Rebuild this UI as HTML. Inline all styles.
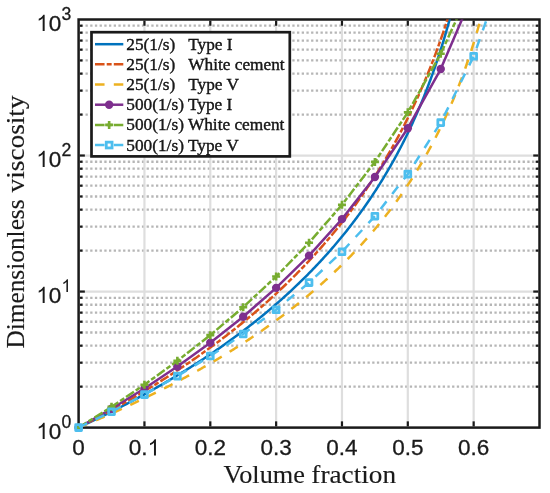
<!DOCTYPE html>
<html><head><meta charset="utf-8"><title>Dimensionless viscosity vs volume fraction</title>
<style>html,body{margin:0;padding:0;background:#fff;}svg{display:block;}text{font-family:"Liberation Sans",sans-serif;fill:#1a1a1a;}svg{will-change:transform;}.serif{font-family:"Liberation Serif",serif;}</style></head><body>
<svg width="550" height="493" viewBox="0 0 550 493">
<rect x="0" y="0" width="550" height="493" fill="#ffffff"/>
<defs><clipPath id="ax"><rect x="78.6" y="19.5" width="460.9" height="408.1"/></clipPath></defs>
<g id="grid">
<line x1="80.80" y1="386.65" x2="539.50" y2="386.65" stroke="#b6b6b6" stroke-width="2.3" stroke-dasharray="2.3 2.4"/>
<line x1="80.80" y1="362.70" x2="539.50" y2="362.70" stroke="#b6b6b6" stroke-width="2.3" stroke-dasharray="2.3 2.4"/>
<line x1="80.80" y1="345.70" x2="539.50" y2="345.70" stroke="#b6b6b6" stroke-width="2.3" stroke-dasharray="2.3 2.4"/>
<line x1="80.80" y1="332.52" x2="539.50" y2="332.52" stroke="#b6b6b6" stroke-width="2.3" stroke-dasharray="2.3 2.4"/>
<line x1="80.80" y1="321.75" x2="539.50" y2="321.75" stroke="#b6b6b6" stroke-width="2.3" stroke-dasharray="2.3 2.4"/>
<line x1="80.80" y1="312.64" x2="539.50" y2="312.64" stroke="#b6b6b6" stroke-width="2.3" stroke-dasharray="2.3 2.4"/>
<line x1="80.80" y1="304.75" x2="539.50" y2="304.75" stroke="#b6b6b6" stroke-width="2.3" stroke-dasharray="2.3 2.4"/>
<line x1="80.80" y1="297.79" x2="539.50" y2="297.79" stroke="#b6b6b6" stroke-width="2.3" stroke-dasharray="2.3 2.4"/>
<line x1="80.80" y1="250.62" x2="539.50" y2="250.62" stroke="#b6b6b6" stroke-width="2.3" stroke-dasharray="2.3 2.4"/>
<line x1="80.80" y1="226.66" x2="539.50" y2="226.66" stroke="#b6b6b6" stroke-width="2.3" stroke-dasharray="2.3 2.4"/>
<line x1="80.80" y1="209.67" x2="539.50" y2="209.67" stroke="#b6b6b6" stroke-width="2.3" stroke-dasharray="2.3 2.4"/>
<line x1="80.80" y1="196.48" x2="539.50" y2="196.48" stroke="#b6b6b6" stroke-width="2.3" stroke-dasharray="2.3 2.4"/>
<line x1="80.80" y1="185.71" x2="539.50" y2="185.71" stroke="#b6b6b6" stroke-width="2.3" stroke-dasharray="2.3 2.4"/>
<line x1="80.80" y1="176.61" x2="539.50" y2="176.61" stroke="#b6b6b6" stroke-width="2.3" stroke-dasharray="2.3 2.4"/>
<line x1="80.80" y1="168.72" x2="539.50" y2="168.72" stroke="#b6b6b6" stroke-width="2.3" stroke-dasharray="2.3 2.4"/>
<line x1="80.80" y1="161.76" x2="539.50" y2="161.76" stroke="#b6b6b6" stroke-width="2.3" stroke-dasharray="2.3 2.4"/>
<line x1="80.80" y1="114.58" x2="539.50" y2="114.58" stroke="#b6b6b6" stroke-width="2.3" stroke-dasharray="2.3 2.4"/>
<line x1="80.80" y1="90.63" x2="539.50" y2="90.63" stroke="#b6b6b6" stroke-width="2.3" stroke-dasharray="2.3 2.4"/>
<line x1="80.80" y1="73.63" x2="539.50" y2="73.63" stroke="#b6b6b6" stroke-width="2.3" stroke-dasharray="2.3 2.4"/>
<line x1="80.80" y1="60.45" x2="539.50" y2="60.45" stroke="#b6b6b6" stroke-width="2.3" stroke-dasharray="2.3 2.4"/>
<line x1="80.80" y1="49.68" x2="539.50" y2="49.68" stroke="#b6b6b6" stroke-width="2.3" stroke-dasharray="2.3 2.4"/>
<line x1="80.80" y1="40.57" x2="539.50" y2="40.57" stroke="#b6b6b6" stroke-width="2.3" stroke-dasharray="2.3 2.4"/>
<line x1="80.80" y1="32.68" x2="539.50" y2="32.68" stroke="#b6b6b6" stroke-width="2.3" stroke-dasharray="2.3 2.4"/>
<line x1="80.80" y1="25.72" x2="539.50" y2="25.72" stroke="#b6b6b6" stroke-width="2.3" stroke-dasharray="2.3 2.4"/>
<line x1="78.60" y1="291.57" x2="539.50" y2="291.57" stroke="#dedede" stroke-width="2.2"/>
<line x1="78.60" y1="155.53" x2="539.50" y2="155.53" stroke="#dedede" stroke-width="2.2"/>
<line x1="144.44" y1="19.50" x2="144.44" y2="427.60" stroke="#dedede" stroke-width="2.2"/>
<line x1="210.29" y1="19.50" x2="210.29" y2="427.60" stroke="#dedede" stroke-width="2.2"/>
<line x1="276.13" y1="19.50" x2="276.13" y2="427.60" stroke="#dedede" stroke-width="2.2"/>
<line x1="341.97" y1="19.50" x2="341.97" y2="427.60" stroke="#dedede" stroke-width="2.2"/>
<line x1="407.81" y1="19.50" x2="407.81" y2="427.60" stroke="#dedede" stroke-width="2.2"/>
<line x1="473.66" y1="19.50" x2="473.66" y2="427.60" stroke="#dedede" stroke-width="2.2"/>
</g>
<g id="axes" stroke="#1a1a1a" fill="none">
<rect x="78.60" y="19.50" width="460.90" height="408.10" stroke-width="2.5"/>
<line x1="144.44" y1="426.35" x2="144.44" y2="421.35" stroke-width="2.2"/>
<line x1="144.44" y1="20.75" x2="144.44" y2="25.75" stroke-width="2.2"/>
<line x1="210.29" y1="426.35" x2="210.29" y2="421.35" stroke-width="2.2"/>
<line x1="210.29" y1="20.75" x2="210.29" y2="25.75" stroke-width="2.2"/>
<line x1="276.13" y1="426.35" x2="276.13" y2="421.35" stroke-width="2.2"/>
<line x1="276.13" y1="20.75" x2="276.13" y2="25.75" stroke-width="2.2"/>
<line x1="341.97" y1="426.35" x2="341.97" y2="421.35" stroke-width="2.2"/>
<line x1="341.97" y1="20.75" x2="341.97" y2="25.75" stroke-width="2.2"/>
<line x1="407.81" y1="426.35" x2="407.81" y2="421.35" stroke-width="2.2"/>
<line x1="407.81" y1="20.75" x2="407.81" y2="25.75" stroke-width="2.2"/>
<line x1="473.66" y1="426.35" x2="473.66" y2="421.35" stroke-width="2.2"/>
<line x1="473.66" y1="20.75" x2="473.66" y2="25.75" stroke-width="2.2"/>
<line x1="79.85" y1="386.65" x2="82.45" y2="386.65" stroke-width="2.2"/>
<line x1="538.25" y1="386.65" x2="535.65" y2="386.65" stroke-width="2.2"/>
<line x1="79.85" y1="362.70" x2="82.45" y2="362.70" stroke-width="2.2"/>
<line x1="538.25" y1="362.70" x2="535.65" y2="362.70" stroke-width="2.2"/>
<line x1="79.85" y1="345.70" x2="82.45" y2="345.70" stroke-width="2.2"/>
<line x1="538.25" y1="345.70" x2="535.65" y2="345.70" stroke-width="2.2"/>
<line x1="79.85" y1="332.52" x2="82.45" y2="332.52" stroke-width="2.2"/>
<line x1="538.25" y1="332.52" x2="535.65" y2="332.52" stroke-width="2.2"/>
<line x1="79.85" y1="321.75" x2="82.45" y2="321.75" stroke-width="2.2"/>
<line x1="538.25" y1="321.75" x2="535.65" y2="321.75" stroke-width="2.2"/>
<line x1="79.85" y1="312.64" x2="82.45" y2="312.64" stroke-width="2.2"/>
<line x1="538.25" y1="312.64" x2="535.65" y2="312.64" stroke-width="2.2"/>
<line x1="79.85" y1="304.75" x2="82.45" y2="304.75" stroke-width="2.2"/>
<line x1="538.25" y1="304.75" x2="535.65" y2="304.75" stroke-width="2.2"/>
<line x1="79.85" y1="297.79" x2="82.45" y2="297.79" stroke-width="2.2"/>
<line x1="538.25" y1="297.79" x2="535.65" y2="297.79" stroke-width="2.2"/>
<line x1="79.85" y1="291.57" x2="84.85" y2="291.57" stroke-width="2.2"/>
<line x1="538.25" y1="291.57" x2="533.25" y2="291.57" stroke-width="2.2"/>
<line x1="79.85" y1="250.62" x2="82.45" y2="250.62" stroke-width="2.2"/>
<line x1="538.25" y1="250.62" x2="535.65" y2="250.62" stroke-width="2.2"/>
<line x1="79.85" y1="226.66" x2="82.45" y2="226.66" stroke-width="2.2"/>
<line x1="538.25" y1="226.66" x2="535.65" y2="226.66" stroke-width="2.2"/>
<line x1="79.85" y1="209.67" x2="82.45" y2="209.67" stroke-width="2.2"/>
<line x1="538.25" y1="209.67" x2="535.65" y2="209.67" stroke-width="2.2"/>
<line x1="79.85" y1="196.48" x2="82.45" y2="196.48" stroke-width="2.2"/>
<line x1="538.25" y1="196.48" x2="535.65" y2="196.48" stroke-width="2.2"/>
<line x1="79.85" y1="185.71" x2="82.45" y2="185.71" stroke-width="2.2"/>
<line x1="538.25" y1="185.71" x2="535.65" y2="185.71" stroke-width="2.2"/>
<line x1="79.85" y1="176.61" x2="82.45" y2="176.61" stroke-width="2.2"/>
<line x1="538.25" y1="176.61" x2="535.65" y2="176.61" stroke-width="2.2"/>
<line x1="79.85" y1="168.72" x2="82.45" y2="168.72" stroke-width="2.2"/>
<line x1="538.25" y1="168.72" x2="535.65" y2="168.72" stroke-width="2.2"/>
<line x1="79.85" y1="161.76" x2="82.45" y2="161.76" stroke-width="2.2"/>
<line x1="538.25" y1="161.76" x2="535.65" y2="161.76" stroke-width="2.2"/>
<line x1="79.85" y1="155.53" x2="84.85" y2="155.53" stroke-width="2.2"/>
<line x1="538.25" y1="155.53" x2="533.25" y2="155.53" stroke-width="2.2"/>
<line x1="79.85" y1="114.58" x2="82.45" y2="114.58" stroke-width="2.2"/>
<line x1="538.25" y1="114.58" x2="535.65" y2="114.58" stroke-width="2.2"/>
<line x1="79.85" y1="90.63" x2="82.45" y2="90.63" stroke-width="2.2"/>
<line x1="538.25" y1="90.63" x2="535.65" y2="90.63" stroke-width="2.2"/>
<line x1="79.85" y1="73.63" x2="82.45" y2="73.63" stroke-width="2.2"/>
<line x1="538.25" y1="73.63" x2="535.65" y2="73.63" stroke-width="2.2"/>
<line x1="79.85" y1="60.45" x2="82.45" y2="60.45" stroke-width="2.2"/>
<line x1="538.25" y1="60.45" x2="535.65" y2="60.45" stroke-width="2.2"/>
<line x1="79.85" y1="49.68" x2="82.45" y2="49.68" stroke-width="2.2"/>
<line x1="538.25" y1="49.68" x2="535.65" y2="49.68" stroke-width="2.2"/>
<line x1="79.85" y1="40.57" x2="82.45" y2="40.57" stroke-width="2.2"/>
<line x1="538.25" y1="40.57" x2="535.65" y2="40.57" stroke-width="2.2"/>
<line x1="79.85" y1="32.68" x2="82.45" y2="32.68" stroke-width="2.2"/>
<line x1="538.25" y1="32.68" x2="535.65" y2="32.68" stroke-width="2.2"/>
<line x1="79.85" y1="25.72" x2="82.45" y2="25.72" stroke-width="2.2"/>
<line x1="538.25" y1="25.72" x2="535.65" y2="25.72" stroke-width="2.2"/>
</g>
<g id="curves" fill="none" stroke-linejoin="round">
<path clip-path="url(#ax)" d="M78.60,427.60 L79.64,427.12 L80.67,426.63 L81.71,426.15 L82.75,425.66 L83.79,425.18 L84.82,424.69 L85.86,424.20 L86.90,423.71 L87.93,423.22 L88.97,422.72 L90.01,422.23 L91.04,421.73 L92.08,421.23 L93.12,420.74 L94.16,420.24 L95.19,419.74 L96.23,419.23 L97.27,418.73 L98.30,418.23 L99.34,417.72 L100.38,417.21 L101.41,416.70 L102.45,416.19 L103.49,415.68 L104.53,415.17 L105.56,414.66 L106.60,414.14 L107.64,413.63 L108.67,413.11 L109.71,412.59 L110.75,412.07 L111.78,411.55 L112.82,411.02 L113.86,410.50 L114.90,409.97 L115.93,409.44 L116.97,408.91 L118.01,408.38 L119.04,407.85 L120.08,407.32 L121.12,406.78 L122.16,406.25 L123.19,405.71 L124.23,405.17 L125.27,404.63 L126.30,404.09 L127.34,403.55 L128.38,403.00 L129.41,402.45 L130.45,401.91 L131.49,401.36 L132.53,400.80 L133.56,400.25 L134.60,399.70 L135.64,399.14 L136.67,398.58 L137.71,398.03 L138.75,397.47 L139.78,396.90 L140.82,396.34 L141.86,395.77 L142.90,395.21 L143.93,394.64 L144.97,394.07 L146.01,393.50 L147.04,392.92 L148.08,392.35 L149.12,391.77 L150.15,391.19 L151.19,390.61 L152.23,390.03 L153.27,389.45 L154.30,388.86 L155.34,388.27 L156.38,387.68 L157.41,387.09 L158.45,386.50 L159.49,385.91 L160.52,385.31 L161.56,384.71 L162.60,384.11 L163.64,383.51 L164.67,382.91 L165.71,382.30 L166.75,381.70 L167.78,381.09 L168.82,380.48 L169.86,379.86 L170.90,379.25 L171.93,378.63 L172.97,378.01 L174.01,377.39 L175.04,376.77 L176.08,376.15 L177.12,375.52 L178.15,374.89 L179.19,374.26 L180.23,373.63 L181.27,372.99 L182.30,372.36 L183.34,371.72 L184.38,371.08 L185.41,370.44 L186.45,369.79 L187.49,369.14 L188.52,368.50 L189.56,367.84 L190.60,367.19 L191.64,366.54 L192.67,365.88 L193.71,365.22 L194.75,364.56 L195.78,363.89 L196.82,363.22 L197.86,362.56 L198.89,361.88 L199.93,361.21 L200.97,360.54 L202.01,359.86 L203.04,359.18 L204.08,358.49 L205.12,357.81 L206.15,357.12 L207.19,356.43 L208.23,355.74 L209.27,355.04 L210.30,354.35 L211.34,353.65 L212.38,352.95 L213.41,352.24 L214.45,351.53 L215.49,350.82 L216.52,350.11 L217.56,349.40 L218.60,348.68 L219.64,347.96 L220.67,347.24 L221.71,346.51 L222.75,345.78 L223.78,345.05 L224.82,344.32 L225.86,343.58 L226.89,342.84 L227.93,342.10 L228.97,341.36 L230.01,340.61 L231.04,339.86 L232.08,339.11 L233.12,338.35 L234.15,337.59 L235.19,336.83 L236.23,336.07 L237.26,335.30 L238.30,334.53 L239.34,333.75 L240.38,332.98 L241.41,332.20 L242.45,331.41 L243.49,330.63 L244.52,329.84 L245.56,329.05 L246.60,328.25 L247.64,327.45 L248.67,326.65 L249.71,325.84 L250.75,325.04 L251.78,324.22 L252.82,323.41 L253.86,322.59 L254.89,321.77 L255.93,320.94 L256.97,320.11 L258.01,319.28 L259.04,318.44 L260.08,317.61 L261.12,316.76 L262.15,315.92 L263.19,315.06 L264.23,314.21 L265.26,313.35 L266.30,312.49 L267.34,311.63 L268.38,310.76 L269.41,309.88 L270.45,309.01 L271.49,308.13 L272.52,307.24 L273.56,306.35 L274.60,305.46 L275.63,304.56 L276.67,303.66 L277.71,302.76 L278.75,301.85 L279.78,300.93 L280.82,300.02 L281.86,299.09 L282.89,298.17 L283.93,297.24 L284.97,296.30 L286.00,295.36 L287.04,294.42 L288.08,293.47 L289.12,292.52 L290.15,291.56 L291.19,290.60 L292.23,289.63 L293.26,288.66 L294.30,287.68 L295.34,286.70 L296.38,285.71 L297.41,284.72 L298.45,283.73 L299.49,282.72 L300.52,281.72 L301.56,280.71 L302.60,279.69 L303.63,278.67 L304.67,277.64 L305.71,276.61 L306.75,275.57 L307.78,274.52 L308.82,273.47 L309.86,272.42 L310.89,271.36 L311.93,270.29 L312.97,269.22 L314.00,268.14 L315.04,267.06 L316.08,265.97 L317.12,264.87 L318.15,263.77 L319.19,262.66 L320.23,261.55 L321.26,260.42 L322.30,259.30 L323.34,258.16 L324.37,257.02 L325.41,255.88 L326.45,254.72 L327.49,253.56 L328.52,252.39 L329.56,251.22 L330.60,250.04 L331.63,248.85 L332.67,247.65 L333.71,246.45 L334.75,245.24 L335.78,244.02 L336.82,242.80 L337.86,241.56 L338.89,240.32 L339.93,239.07 L340.97,237.82 L342.00,236.55 L343.04,235.28 L344.08,234.00 L345.12,232.71 L346.15,231.41 L347.19,230.11 L348.23,228.79 L349.26,227.47 L350.30,226.13 L351.34,224.79 L352.37,223.44 L353.41,222.08 L354.45,220.71 L355.49,219.33 L356.52,217.94 L357.56,216.54 L358.60,215.13 L359.63,213.71 L360.67,212.28 L361.71,210.84 L362.74,209.39 L363.78,207.93 L364.82,206.46 L365.86,204.97 L366.89,203.48 L367.93,201.97 L368.97,200.46 L370.00,198.93 L371.04,197.39 L372.08,195.83 L373.12,194.27 L374.15,192.69 L375.19,191.10 L376.23,189.49 L377.26,187.88 L378.30,186.25 L379.34,184.60 L380.37,182.94 L381.41,181.27 L382.45,179.59 L383.49,177.89 L384.52,176.17 L385.56,174.44 L386.60,172.69 L387.63,170.93 L388.67,169.15 L389.71,167.36 L390.74,165.55 L391.78,163.72 L392.82,161.88 L393.86,160.02 L394.89,158.14 L395.93,156.24 L396.97,154.33 L398.00,152.39 L399.04,150.44 L400.08,148.47 L401.11,146.48 L402.15,144.46 L403.19,142.43 L404.23,140.37 L405.26,138.30 L406.30,136.20 L407.34,134.08 L408.37,131.93 L409.41,129.77 L410.45,127.57 L411.49,125.36 L412.52,123.12 L413.56,120.85 L414.60,118.55 L415.63,116.23 L416.67,113.88 L417.71,111.51 L418.74,109.10 L419.78,106.67 L420.82,104.20 L421.86,101.70 L422.89,99.17 L423.93,96.61 L424.97,94.02 L426.00,91.39 L427.04,88.72 L428.08,86.02 L429.11,83.28 L430.15,80.50 L431.19,77.68 L432.23,74.82 L433.26,71.92 L434.30,68.98 L435.34,65.99 L436.37,62.96 L437.41,59.87 L438.45,56.74 L439.48,53.56 L440.52,50.33 L441.56,47.04 L442.60,43.70 L443.63,40.30 L444.67,36.84 L445.71,33.31 L446.74,29.73 L447.78,26.08 L448.82,22.35 L449.85,18.56 L450.89,14.69 L451.93,10.75 L452.97,6.72 L454.00,2.61 L455.04,-1.58 L456.08,-5.87 L457.11,-10.25 L458.15,-14.73 L459.19,-19.32 L460.23,-24.02" stroke="#0072BD" stroke-width="2.5"/>
<path clip-path="url(#ax)" d="M78.60,427.60 L79.64,427.07 L80.67,426.54 L81.71,426.00 L82.75,425.47 L83.79,424.93 L84.82,424.39 L85.86,423.86 L86.90,423.32 L87.93,422.77 L88.97,422.23 L90.01,421.69 L91.04,421.14 L92.08,420.60 L93.12,420.05 L94.16,419.50 L95.19,418.95 L96.23,418.40 L97.27,417.84 L98.30,417.29 L99.34,416.73 L100.38,416.17 L101.41,415.62 L102.45,415.06 L103.49,414.49 L104.53,413.93 L105.56,413.37 L106.60,412.80 L107.64,412.23 L108.67,411.67 L109.71,411.10 L110.75,410.52 L111.78,409.95 L112.82,409.38 L113.86,408.80 L114.90,408.22 L115.93,407.64 L116.97,407.06 L118.01,406.48 L119.04,405.90 L120.08,405.31 L121.12,404.73 L122.16,404.14 L123.19,403.55 L124.23,402.96 L125.27,402.37 L126.30,401.77 L127.34,401.18 L128.38,400.58 L129.41,399.98 L130.45,399.38 L131.49,398.78 L132.53,398.18 L133.56,397.57 L134.60,396.96 L135.64,396.36 L136.67,395.75 L137.71,395.13 L138.75,394.52 L139.78,393.90 L140.82,393.29 L141.86,392.67 L142.90,392.05 L143.93,391.43 L144.97,390.80 L146.01,390.18 L147.04,389.55 L148.08,388.92 L149.12,388.29 L150.15,387.66 L151.19,387.03 L152.23,386.39 L153.27,385.75 L154.30,385.11 L155.34,384.47 L156.38,383.83 L157.41,383.18 L158.45,382.54 L159.49,381.89 L160.52,381.24 L161.56,380.58 L162.60,379.93 L163.64,379.27 L164.67,378.62 L165.71,377.96 L166.75,377.29 L167.78,376.63 L168.82,375.96 L169.86,375.30 L170.90,374.63 L171.93,373.95 L172.97,373.28 L174.01,372.60 L175.04,371.93 L176.08,371.25 L177.12,370.56 L178.15,369.88 L179.19,369.19 L180.23,368.51 L181.27,367.82 L182.30,367.12 L183.34,366.43 L184.38,365.73 L185.41,365.03 L186.45,364.33 L187.49,363.63 L188.52,362.92 L189.56,362.22 L190.60,361.51 L191.64,360.79 L192.67,360.08 L193.71,359.36 L194.75,358.64 L195.78,357.92 L196.82,357.20 L197.86,356.47 L198.89,355.74 L199.93,355.01 L200.97,354.28 L202.01,353.55 L203.04,352.81 L204.08,352.07 L205.12,351.32 L206.15,350.58 L207.19,349.83 L208.23,349.08 L209.27,348.33 L210.30,347.57 L211.34,346.82 L212.38,346.06 L213.41,345.29 L214.45,344.53 L215.49,343.76 L216.52,342.99 L217.56,342.22 L218.60,341.44 L219.64,340.66 L220.67,339.88 L221.71,339.10 L222.75,338.31 L223.78,337.52 L224.82,336.73 L225.86,335.93 L226.89,335.14 L227.93,334.34 L228.97,333.53 L230.01,332.73 L231.04,331.92 L232.08,331.11 L233.12,330.29 L234.15,329.47 L235.19,328.65 L236.23,327.83 L237.26,327.00 L238.30,326.17 L239.34,325.34 L240.38,324.50 L241.41,323.66 L242.45,322.82 L243.49,321.97 L244.52,321.13 L245.56,320.27 L246.60,319.42 L247.64,318.56 L248.67,317.70 L249.71,316.83 L250.75,315.96 L251.78,315.09 L252.82,314.22 L253.86,313.34 L254.89,312.46 L255.93,311.57 L256.97,310.68 L258.01,309.79 L259.04,308.89 L260.08,308.00 L261.12,307.09 L262.15,306.19 L263.19,305.27 L264.23,304.36 L265.26,303.44 L266.30,302.52 L267.34,301.60 L268.38,300.67 L269.41,299.73 L270.45,298.80 L271.49,297.86 L272.52,296.91 L273.56,295.96 L274.60,295.01 L275.63,294.05 L276.67,293.09 L277.71,292.13 L278.75,291.16 L279.78,290.19 L280.82,289.21 L281.86,288.23 L282.89,287.24 L283.93,286.25 L284.97,285.26 L286.00,284.26 L287.04,283.25 L288.08,282.25 L289.12,281.23 L290.15,280.22 L291.19,279.19 L292.23,278.17 L293.26,277.14 L294.30,276.10 L295.34,275.06 L296.38,274.02 L297.41,272.97 L298.45,271.91 L299.49,270.85 L300.52,269.79 L301.56,268.72 L302.60,267.64 L303.63,266.56 L304.67,265.47 L305.71,264.38 L306.75,263.29 L307.78,262.19 L308.82,261.08 L309.86,259.97 L310.89,258.85 L311.93,257.73 L312.97,256.60 L314.00,255.46 L315.04,254.32 L316.08,253.18 L317.12,252.02 L318.15,250.87 L319.19,249.70 L320.23,248.53 L321.26,247.36 L322.30,246.17 L323.34,244.98 L324.37,243.79 L325.41,242.59 L326.45,241.38 L327.49,240.17 L328.52,238.95 L329.56,237.72 L330.60,236.49 L331.63,235.24 L332.67,234.00 L333.71,232.74 L334.75,231.48 L335.78,230.21 L336.82,228.94 L337.86,227.65 L338.89,226.36 L339.93,225.07 L340.97,223.76 L342.00,222.45 L343.04,221.13 L344.08,219.80 L345.12,218.46 L346.15,217.12 L347.19,215.77 L348.23,214.41 L349.26,213.04 L350.30,211.66 L351.34,210.27 L352.37,208.88 L353.41,207.48 L354.45,206.07 L355.49,204.65 L356.52,203.22 L357.56,201.78 L358.60,200.33 L359.63,198.87 L360.67,197.41 L361.71,195.93 L362.74,194.45 L363.78,192.95 L364.82,191.44 L365.86,189.93 L366.89,188.40 L367.93,186.87 L368.97,185.32 L370.00,183.76 L371.04,182.19 L372.08,180.61 L373.12,179.02 L374.15,177.42 L375.19,175.81 L376.23,174.18 L377.26,172.55 L378.30,170.90 L379.34,169.24 L380.37,167.57 L381.41,165.88 L382.45,164.18 L383.49,162.47 L384.52,160.75 L385.56,159.01 L386.60,157.26 L387.63,155.49 L388.67,153.72 L389.71,151.92 L390.74,150.12 L391.78,148.29 L392.82,146.46 L393.86,144.61 L394.89,142.74 L395.93,140.86 L396.97,138.96 L398.00,137.05 L399.04,135.11 L400.08,133.17 L401.11,131.20 L402.15,129.22 L403.19,127.22 L404.23,125.21 L405.26,123.17 L406.30,121.12 L407.34,119.05 L408.37,116.95 L409.41,114.84 L410.45,112.71 L411.49,110.56 L412.52,108.39 L413.56,106.19 L414.60,103.98 L415.63,101.74 L416.67,99.48 L417.71,97.20 L418.74,94.90 L419.78,92.57 L420.82,90.21 L421.86,87.84 L422.89,85.43 L423.93,83.00 L424.97,80.55 L426.00,78.06 L427.04,75.55 L428.08,73.01 L429.11,70.45 L430.15,67.85 L431.19,65.22 L432.23,62.56 L433.26,59.87 L434.30,57.15 L435.34,54.40 L436.37,51.61 L437.41,48.78 L438.45,45.92 L439.48,43.02 L440.52,40.09 L441.56,37.12 L442.60,34.10 L443.63,31.05 L444.67,27.95 L445.71,24.81 L446.74,21.63 L447.78,18.40 L448.82,15.13 L449.85,11.80 L450.89,8.43 L451.93,5.00 L452.97,1.53 L454.00,-2.01 L455.04,-5.59 L456.08,-9.24 L457.11,-12.95 L458.15,-16.71 L459.19,-20.55 L460.23,-24.44" stroke="#D95319" stroke-width="2.5" stroke-dasharray="9.55 2.15 4.95 2.15"/>
<path clip-path="url(#ax)" d="M78.60,427.60 L79.64,427.17 L80.67,426.74 L81.71,426.31 L82.75,425.88 L83.79,425.45 L84.82,425.01 L85.86,424.58 L86.90,424.14 L87.93,423.71 L88.97,423.27 L90.01,422.83 L91.04,422.39 L92.08,421.95 L93.12,421.51 L94.16,421.07 L95.19,420.62 L96.23,420.18 L97.27,419.73 L98.30,419.28 L99.34,418.84 L100.38,418.39 L101.41,417.94 L102.45,417.49 L103.49,417.03 L104.53,416.58 L105.56,416.13 L106.60,415.67 L107.64,415.21 L108.67,414.76 L109.71,414.30 L110.75,413.84 L111.78,413.37 L112.82,412.91 L113.86,412.45 L114.90,411.98 L115.93,411.52 L116.97,411.05 L118.01,410.58 L119.04,410.11 L120.08,409.64 L121.12,409.17 L122.16,408.70 L123.19,408.22 L124.23,407.75 L125.27,407.27 L126.30,406.79 L127.34,406.31 L128.38,405.83 L129.41,405.35 L130.45,404.87 L131.49,404.39 L132.53,403.90 L133.56,403.41 L134.60,402.93 L135.64,402.44 L136.67,401.95 L137.71,401.46 L138.75,400.96 L139.78,400.47 L140.82,399.97 L141.86,399.48 L142.90,398.98 L143.93,398.48 L144.97,397.98 L146.01,397.48 L147.04,396.97 L148.08,396.47 L149.12,395.96 L150.15,395.45 L151.19,394.94 L152.23,394.43 L153.27,393.92 L154.30,393.41 L155.34,392.89 L156.38,392.38 L157.41,391.86 L158.45,391.34 L159.49,390.82 L160.52,390.30 L161.56,389.78 L162.60,389.25 L163.64,388.72 L164.67,388.20 L165.71,387.67 L166.75,387.14 L167.78,386.60 L168.82,386.07 L169.86,385.54 L170.90,385.00 L171.93,384.46 L172.97,383.92 L174.01,383.38 L175.04,382.84 L176.08,382.29 L177.12,381.75 L178.15,381.20 L179.19,380.65 L180.23,380.10 L181.27,379.54 L182.30,378.99 L183.34,378.43 L184.38,377.88 L185.41,377.32 L186.45,376.76 L187.49,376.19 L188.52,375.63 L189.56,375.06 L190.60,374.50 L191.64,373.93 L192.67,373.35 L193.71,372.78 L194.75,372.21 L195.78,371.63 L196.82,371.05 L197.86,370.47 L198.89,369.89 L199.93,369.31 L200.97,368.72 L202.01,368.13 L203.04,367.54 L204.08,366.95 L205.12,366.36 L206.15,365.77 L207.19,365.17 L208.23,364.57 L209.27,363.97 L210.30,363.37 L211.34,362.76 L212.38,362.16 L213.41,361.55 L214.45,360.94 L215.49,360.32 L216.52,359.71 L217.56,359.09 L218.60,358.48 L219.64,357.85 L220.67,357.23 L221.71,356.61 L222.75,355.98 L223.78,355.35 L224.82,354.72 L225.86,354.09 L226.89,353.45 L227.93,352.81 L228.97,352.17 L230.01,351.53 L231.04,350.89 L232.08,350.24 L233.12,349.59 L234.15,348.94 L235.19,348.29 L236.23,347.64 L237.26,346.98 L238.30,346.32 L239.34,345.66 L240.38,344.99 L241.41,344.32 L242.45,343.65 L243.49,342.98 L244.52,342.31 L245.56,341.63 L246.60,340.95 L247.64,340.27 L248.67,339.59 L249.71,338.90 L250.75,338.21 L251.78,337.52 L252.82,336.82 L253.86,336.13 L254.89,335.43 L255.93,334.73 L256.97,334.02 L258.01,333.31 L259.04,332.60 L260.08,331.89 L261.12,331.18 L262.15,330.46 L263.19,329.74 L264.23,329.01 L265.26,328.29 L266.30,327.56 L267.34,326.82 L268.38,326.09 L269.41,325.35 L270.45,324.61 L271.49,323.87 L272.52,323.12 L273.56,322.37 L274.60,321.62 L275.63,320.86 L276.67,320.10 L277.71,319.34 L278.75,318.57 L279.78,317.80 L280.82,317.03 L281.86,316.26 L282.89,315.48 L283.93,314.70 L284.97,313.91 L286.00,313.13 L287.04,312.34 L288.08,311.54 L289.12,310.74 L290.15,309.94 L291.19,309.14 L292.23,308.33 L293.26,307.52 L294.30,306.70 L295.34,305.88 L296.38,305.06 L297.41,304.23 L298.45,303.40 L299.49,302.57 L300.52,301.73 L301.56,300.89 L302.60,300.05 L303.63,299.20 L304.67,298.35 L305.71,297.49 L306.75,296.63 L307.78,295.76 L308.82,294.90 L309.86,294.02 L310.89,293.15 L311.93,292.27 L312.97,291.38 L314.00,290.49 L315.04,289.60 L316.08,288.70 L317.12,287.80 L318.15,286.89 L319.19,285.98 L320.23,285.07 L321.26,284.15 L322.30,283.22 L323.34,282.30 L324.37,281.36 L325.41,280.42 L326.45,279.48 L327.49,278.53 L328.52,277.58 L329.56,276.62 L330.60,275.66 L331.63,274.69 L332.67,273.72 L333.71,272.74 L334.75,271.76 L335.78,270.77 L336.82,269.78 L337.86,268.78 L338.89,267.78 L339.93,266.77 L340.97,265.76 L342.00,264.74 L343.04,263.71 L344.08,262.68 L345.12,261.64 L346.15,260.60 L347.19,259.55 L348.23,258.50 L349.26,257.44 L350.30,256.37 L351.34,255.30 L352.37,254.22 L353.41,253.13 L354.45,252.04 L355.49,250.94 L356.52,249.84 L357.56,248.73 L358.60,247.61 L359.63,246.49 L360.67,245.36 L361.71,244.22 L362.74,243.07 L363.78,241.92 L364.82,240.76 L365.86,239.60 L366.89,238.42 L367.93,237.24 L368.97,236.05 L370.00,234.86 L371.04,233.65 L372.08,232.44 L373.12,231.22 L374.15,230.00 L375.19,228.76 L376.23,227.52 L377.26,226.26 L378.30,225.00 L379.34,223.73 L380.37,222.46 L381.41,221.17 L382.45,219.87 L383.49,218.57 L384.52,217.26 L385.56,215.93 L386.60,214.60 L387.63,213.26 L388.67,211.91 L389.71,210.54 L390.74,209.17 L391.78,207.79 L392.82,206.40 L393.86,205.00 L394.89,203.58 L395.93,202.16 L396.97,200.72 L398.00,199.28 L399.04,197.82 L400.08,196.35 L401.11,194.87 L402.15,193.38 L403.19,191.88 L404.23,190.36 L405.26,188.83 L406.30,187.29 L407.34,185.74 L408.37,184.17 L409.41,182.59 L410.45,181.00 L411.49,179.39 L412.52,177.77 L413.56,176.13 L414.60,174.48 L415.63,172.82 L416.67,171.14 L417.71,169.44 L418.74,167.73 L419.78,166.01 L420.82,164.26 L421.86,162.51 L422.89,160.73 L423.93,158.94 L424.97,157.13 L426.00,155.30 L427.04,153.46 L428.08,151.59 L429.11,149.71 L430.15,147.81 L431.19,145.89 L432.23,143.94 L433.26,141.98 L434.30,140.00 L435.34,138.00 L436.37,135.97 L437.41,133.92 L438.45,131.85 L439.48,129.76 L440.52,127.64 L441.56,125.50 L442.60,123.34 L443.63,121.15 L444.67,118.93 L445.71,116.68 L446.74,114.41 L447.78,112.11 L448.82,109.79 L449.85,107.43 L450.89,105.04 L451.93,102.62 L452.97,100.17 L454.00,97.69 L455.04,95.17 L456.08,92.62 L457.11,90.04 L458.15,87.42 L459.19,84.76 L460.23,82.06 L461.26,79.33 L462.30,76.55 L463.34,73.73 L464.37,70.87 L465.41,67.96 L466.45,65.01 L467.48,62.01 L468.52,58.96 L469.56,55.86 L470.60,52.71 L471.63,49.50 L472.67,46.24 L473.71,42.92 L474.74,39.54 L475.78,36.10 L476.82,32.59 L477.85,29.02 L478.89,25.37 L479.93,21.66 L480.97,17.87 L482.00,14.00 L483.04,10.05 L484.08,6.01 L485.11,1.88 L486.15,-2.33 L487.19,-6.65 L488.22,-11.07 L489.26,-15.59 L490.30,-20.23 L491.34,-24.99" stroke="#EDB120" stroke-width="2.5" stroke-dasharray="9.55 9.25"/>
<path clip-path="url(#ax)" d="M78.60,427.60 L111.52,408.73 L144.44,388.46 L177.36,366.56 L210.29,342.76 L243.21,316.69 L276.13,287.87 L309.05,255.65 L341.97,219.13 L374.89,176.96 L407.81,128.19 L440.74,69.02 L473.66,-7.84" stroke="#7E2F8E" stroke-width="2.5"/>
<circle cx="78.60" cy="427.60" r="4.2" fill="#7E2F8E" stroke="none"/>
<circle cx="111.52" cy="408.73" r="4.2" fill="#7E2F8E" stroke="none"/>
<circle cx="144.44" cy="388.46" r="4.2" fill="#7E2F8E" stroke="none"/>
<circle cx="177.36" cy="366.56" r="4.2" fill="#7E2F8E" stroke="none"/>
<circle cx="210.29" cy="342.76" r="4.2" fill="#7E2F8E" stroke="none"/>
<circle cx="243.21" cy="316.69" r="4.2" fill="#7E2F8E" stroke="none"/>
<circle cx="276.13" cy="287.87" r="4.2" fill="#7E2F8E" stroke="none"/>
<circle cx="309.05" cy="255.65" r="4.2" fill="#7E2F8E" stroke="none"/>
<circle cx="341.97" cy="219.13" r="4.2" fill="#7E2F8E" stroke="none"/>
<circle cx="374.89" cy="176.96" r="4.2" fill="#7E2F8E" stroke="none"/>
<circle cx="407.81" cy="128.19" r="4.2" fill="#7E2F8E" stroke="none"/>
<circle cx="440.74" cy="69.02" r="4.2" fill="#7E2F8E" stroke="none"/>
<path clip-path="url(#ax)" d="M78.60,427.60 L111.52,406.86 L144.44,384.68 L177.36,360.87 L210.29,335.14 L243.21,307.18 L276.13,276.55 L309.05,242.69 L341.97,204.83 L374.89,161.92 L407.81,112.37 L440.74,53.78 L473.66,-17.94" stroke="#77AC30" stroke-width="2.5" stroke-dasharray="9.55 2.15 4.95 2.15"/>
<path d="M74.60,427.60H82.60M78.60,423.60V431.60" stroke="#77AC30" stroke-width="2.6"/>
<path d="M107.52,406.86H115.52M111.52,402.86V410.86" stroke="#77AC30" stroke-width="2.6"/>
<path d="M140.44,384.68H148.44M144.44,380.68V388.68" stroke="#77AC30" stroke-width="2.6"/>
<path d="M173.36,360.87H181.36M177.36,356.87V364.87" stroke="#77AC30" stroke-width="2.6"/>
<path d="M206.29,335.14H214.29M210.29,331.14V339.14" stroke="#77AC30" stroke-width="2.6"/>
<path d="M239.21,307.18H247.21M243.21,303.18V311.18" stroke="#77AC30" stroke-width="2.6"/>
<path d="M272.13,276.55H280.13M276.13,272.55V280.55" stroke="#77AC30" stroke-width="2.6"/>
<path d="M305.05,242.69H313.05M309.05,238.69V246.69" stroke="#77AC30" stroke-width="2.6"/>
<path d="M337.97,204.83H345.97M341.97,200.83V208.83" stroke="#77AC30" stroke-width="2.6"/>
<path d="M370.89,161.92H378.89M374.89,157.92V165.92" stroke="#77AC30" stroke-width="2.6"/>
<path d="M403.81,112.37H411.81M407.81,108.37V116.37" stroke="#77AC30" stroke-width="2.6"/>
<path d="M436.74,53.78H444.74M440.74,49.78V57.78" stroke="#77AC30" stroke-width="2.6"/>
<path clip-path="url(#ax)" d="M78.60,427.60 L111.52,411.68 L144.44,394.59 L177.36,376.12 L210.29,356.05 L243.21,334.06 L276.13,309.75 L309.05,282.58 L341.97,251.77 L374.89,216.21 L407.81,174.15 L440.74,122.67 L473.66,56.30 L506.58,-37.24" stroke="#4DBEEE" stroke-width="2.5" stroke-dasharray="9.55 9.25"/>
<rect x="75.70" y="424.70" width="5.8" height="5.8" fill="none" stroke="#4DBEEE" stroke-width="2.8"/>
<rect x="108.62" y="408.78" width="5.8" height="5.8" fill="none" stroke="#4DBEEE" stroke-width="2.8"/>
<rect x="141.54" y="391.69" width="5.8" height="5.8" fill="none" stroke="#4DBEEE" stroke-width="2.8"/>
<rect x="174.46" y="373.22" width="5.8" height="5.8" fill="none" stroke="#4DBEEE" stroke-width="2.8"/>
<rect x="207.39" y="353.15" width="5.8" height="5.8" fill="none" stroke="#4DBEEE" stroke-width="2.8"/>
<rect x="240.31" y="331.16" width="5.8" height="5.8" fill="none" stroke="#4DBEEE" stroke-width="2.8"/>
<rect x="273.23" y="306.85" width="5.8" height="5.8" fill="none" stroke="#4DBEEE" stroke-width="2.8"/>
<rect x="306.15" y="279.68" width="5.8" height="5.8" fill="none" stroke="#4DBEEE" stroke-width="2.8"/>
<rect x="339.07" y="248.87" width="5.8" height="5.8" fill="none" stroke="#4DBEEE" stroke-width="2.8"/>
<rect x="371.99" y="213.31" width="5.8" height="5.8" fill="none" stroke="#4DBEEE" stroke-width="2.8"/>
<rect x="404.91" y="171.25" width="5.8" height="5.8" fill="none" stroke="#4DBEEE" stroke-width="2.8"/>
<rect x="437.84" y="119.77" width="5.8" height="5.8" fill="none" stroke="#4DBEEE" stroke-width="2.8"/>
<rect x="470.76" y="53.40" width="5.8" height="5.8" fill="none" stroke="#4DBEEE" stroke-width="2.8"/>
</g>
<g id="ticklabels" font-size="22.5" stroke="#1a1a1a" stroke-width="0.3">
<text x="78.60" y="455.4" text-anchor="middle">0</text>
<text x="128.80" y="455.4">0.</text>
<path d="M763 0H583V1147Q518 1085 412.5 1023T223 930V1104Q374 1175 487 1276T647 1472H763Z" transform="translate(147.57,455.40) scale(0.01099,-0.01099)" fill="#1a1a1a"/>
<text x="210.29" y="455.4" text-anchor="middle">0.2</text>
<text x="276.13" y="455.4" text-anchor="middle">0.3</text>
<text x="341.97" y="455.4" text-anchor="middle">0.4</text>
<text x="407.81" y="455.4" text-anchor="middle">0.5</text>
<text x="473.66" y="455.4" text-anchor="middle">0.6</text>
<text x="48.79" y="439.00">0</text>
<path d="M763 0H583V1147Q518 1085 412.5 1023T223 930V1104Q374 1175 487 1276T647 1472H763Z" transform="translate(36.27,439.00) scale(0.01099,-0.01099)" fill="#1a1a1a"/>
<text x="61.40" y="428.00" font-size="17.6">0</text>
<text x="48.79" y="302.97">0</text>
<path d="M763 0H583V1147Q518 1085 412.5 1023T223 930V1104Q374 1175 487 1276T647 1472H763Z" transform="translate(36.27,302.97) scale(0.01099,-0.01099)" fill="#1a1a1a"/>
<path d="M763 0H583V1147Q518 1085 412.5 1023T223 930V1104Q374 1175 487 1276T647 1472H763Z" transform="translate(61.40,291.97) scale(0.00859,-0.00859)" fill="#1a1a1a"/>
<text x="48.79" y="166.93">0</text>
<path d="M763 0H583V1147Q518 1085 412.5 1023T223 930V1104Q374 1175 487 1276T647 1472H763Z" transform="translate(36.27,166.93) scale(0.01099,-0.01099)" fill="#1a1a1a"/>
<text x="61.40" y="155.93" font-size="17.6">2</text>
<text x="48.79" y="30.90">0</text>
<path d="M763 0H583V1147Q518 1085 412.5 1023T223 930V1104Q374 1175 487 1276T647 1472H763Z" transform="translate(36.27,30.90) scale(0.01099,-0.01099)" fill="#1a1a1a"/>
<text x="61.40" y="19.90" font-size="17.6">3</text>
</g>
<g id="axislabels" font-size="24.8" stroke="#1a1a1a" stroke-width="0.15">
<text class="serif" x="223.6" y="482.6" textLength="81.3" lengthAdjust="spacingAndGlyphs">Volume</text>
<text class="serif" x="311.3" y="482.6" textLength="84.8" lengthAdjust="spacingAndGlyphs">fraction</text>
<g transform="translate(24.0,348.6) rotate(-90)">
<text class="serif" x="0" y="0" textLength="149.2" lengthAdjust="spacingAndGlyphs">Dimensionless</text>
<text class="serif" x="156.2" y="0" textLength="97" lengthAdjust="spacingAndGlyphs">viscosity</text>
</g></g>
<g id="legend">
<rect x="91.5" y="32.2" width="198.30" height="124.20" fill="#ffffff" stroke="#1a1a1a" stroke-width="2.7"/>
<line x1="95.0" y1="44.20" x2="123.3" y2="44.20" stroke="#0072BD" stroke-width="2.5"/>
<text class="serif" x="126.3" y="49.80" font-size="17.3" fill="#000" stroke="#000" stroke-width="0.35">25(1/s)   Type I</text>
<line x1="95.0" y1="64.37" x2="123.3" y2="64.37" stroke="#D95319" stroke-width="2.5" stroke-dasharray="9.55 2.15 4.95 2.15"/>
<text class="serif" x="126.3" y="69.97" font-size="17.3" fill="#000" stroke="#000" stroke-width="0.35">25(1/s)   White cement</text>
<line x1="95.0" y1="84.54" x2="123.3" y2="84.54" stroke="#EDB120" stroke-width="2.5" stroke-dasharray="9.55 9.25"/>
<text class="serif" x="126.3" y="90.14" font-size="17.3" fill="#000" stroke="#000" stroke-width="0.35">25(1/s)   Type V</text>
<line x1="95.0" y1="104.71" x2="123.3" y2="104.71" stroke="#7E2F8E" stroke-width="2.5"/>
<circle cx="109.15" cy="104.71" r="4.2" fill="#7E2F8E"/>
<text class="serif" x="126.3" y="110.31" font-size="17.3" fill="#000" stroke="#000" stroke-width="0.35">500(1/s) Type I</text>
<line x1="95.0" y1="124.88" x2="123.3" y2="124.88" stroke="#77AC30" stroke-width="2.5" stroke-dasharray="9.55 2.15 4.95 2.15"/>
<path d="M105.15,124.88H113.15M109.15,120.88V128.88" stroke="#77AC30" stroke-width="2.6" fill="none"/>
<text class="serif" x="126.3" y="130.48" font-size="17.3" fill="#000" stroke="#000" stroke-width="0.35">500(1/s) White cement</text>
<line x1="95.0" y1="145.05" x2="123.3" y2="145.05" stroke="#4DBEEE" stroke-width="2.5" stroke-dasharray="9.55 9.25"/>
<rect x="106.25" y="142.15" width="5.8" height="5.8" fill="#fff" stroke="#4DBEEE" stroke-width="2.8"/>
<text class="serif" x="126.3" y="150.65" font-size="17.3" fill="#000" stroke="#000" stroke-width="0.35">500(1/s) Type V</text>
</g>
</svg></body></html>
